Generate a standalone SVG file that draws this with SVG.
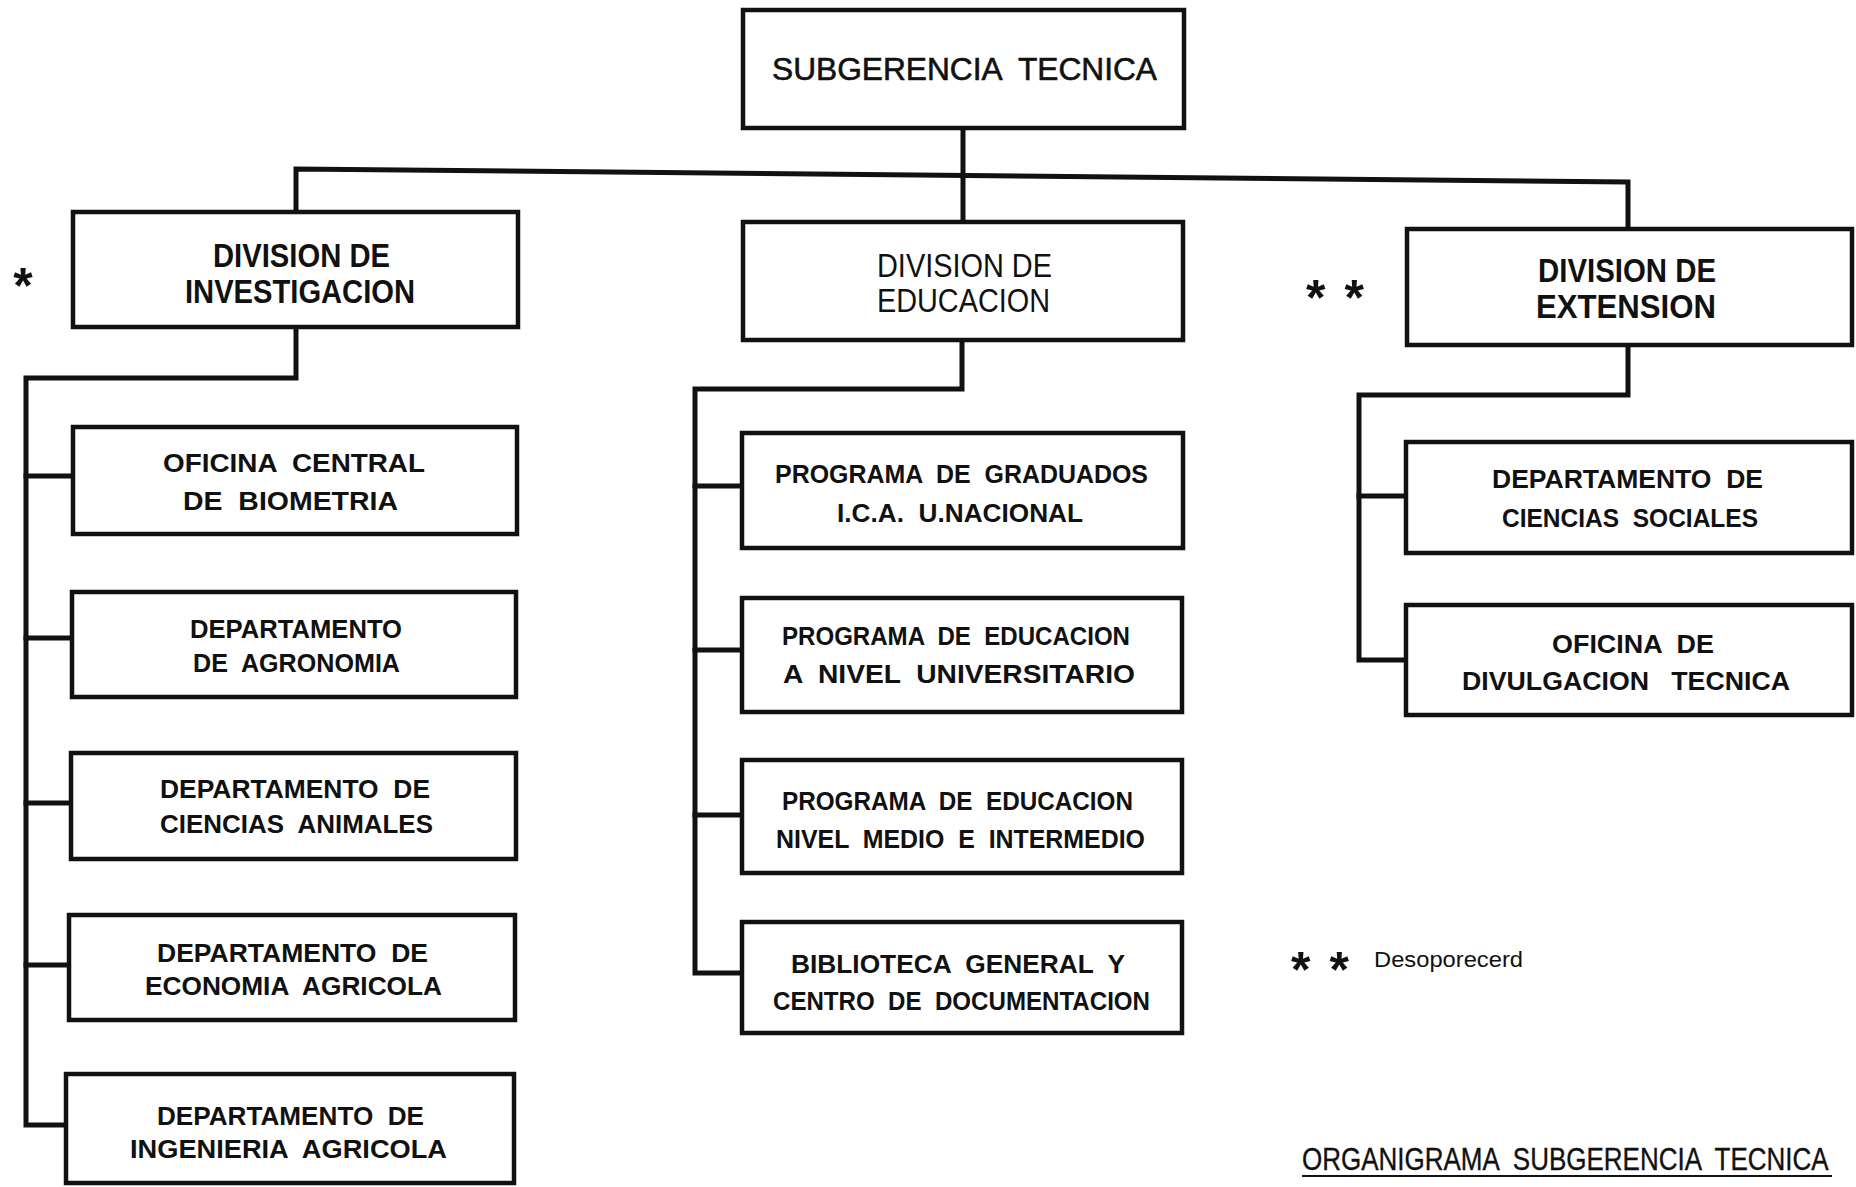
<svg xmlns="http://www.w3.org/2000/svg" width="1856" height="1187" viewBox="0 0 1856 1187">
<style>
.bg{fill:#ffffff}
.box{fill:#ffffff;stroke:#111;stroke-width:4.5}
.con{fill:none;stroke:#111;stroke-width:5;stroke-linejoin:miter;stroke-linecap:square}
text{font-family:"Liberation Sans",Arial,sans-serif;fill:#111;white-space:pre}
.t{font-size:32px;stroke:#111;stroke-width:0.6}
.dv{font-size:34px;font-weight:bold}
.dn{font-size:33px}
.c{font-size:26px;font-weight:bold}
.ce{font-size:25px;font-weight:bold}
.ast{font-size:50px;font-weight:bold}
.lg{font-size:22px}
.tt{font-size:26px;stroke:#111;stroke-width:0.3}
</style>
<rect class="bg" x="0" y="0" width="1856" height="1187"/>
<g id="connectors">
<path class="con" d="M963,128 V176"/>
<path class="con" d="M296,212 V169 L1628,182 V229"/>
<path class="con" d="M963,176 V222"/>
<path class="con" d="M296,327 V378 H26 V1125 H66"/>
<path class="con" d="M26,476 H73 M26,638 H72 M26,803 H71 M26,965 H69"/>
<path class="con" d="M962,340 V389 H695 V973 H742"/>
<path class="con" d="M695,486 H742 M695,650 H742 M695,815 H742"/>
<path class="con" d="M1628,345 V395 H1359 V660 H1406"/>
<path class="con" d="M1359,496 H1406"/>
</g>
<g id="subgerencia">
<rect class="box" x="743" y="10" width="441" height="118"/>
<text class="t" x="772" y="80" textLength="385" lengthAdjust="spacingAndGlyphs">SUBGERENCIA  TECNICA</text>
</g>
<g id="div-investigacion">
<rect class="box" x="73" y="212" width="445" height="115"/>
<text class="dv" x="213" y="267" textLength="177" lengthAdjust="spacingAndGlyphs">DIVISION DE</text>
<text class="dv" x="185" y="303" textLength="230" lengthAdjust="spacingAndGlyphs">INVESTIGACION</text>
</g>
<text class="ast" x="23" y="303" text-anchor="middle">*</text>
<g id="div-educacion">
<rect class="box" x="743" y="222" width="440" height="118"/>
<text class="dn" x="877" y="277" textLength="175" lengthAdjust="spacingAndGlyphs">DIVISION DE</text>
<text class="dn" x="877" y="312" textLength="173" lengthAdjust="spacingAndGlyphs">EDUCACION</text>
</g>
<g id="div-extension">
<rect class="box" x="1407" y="229" width="445" height="116"/>
<text class="dv" x="1538" y="282" textLength="178" lengthAdjust="spacingAndGlyphs">DIVISION DE</text>
<text class="dv" x="1536" y="318" textLength="180" lengthAdjust="spacingAndGlyphs">EXTENSION</text>
</g>
<text class="ast" x="1306" y="315" textLength="58" lengthAdjust="spacing">* *</text>
<g id="inv-biometria">
<rect class="box" x="73" y="427" width="444" height="107"/>
<text class="c" x="163" y="472" textLength="262" lengthAdjust="spacingAndGlyphs">OFICINA  CENTRAL</text>
<text class="c" x="183" y="510" textLength="215" lengthAdjust="spacingAndGlyphs">DE  BIOMETRIA</text>
</g>
<g id="inv-agronomia">
<rect class="box" x="72" y="592" width="444" height="105"/>
<text class="c" x="190" y="638" textLength="212" lengthAdjust="spacingAndGlyphs">DEPARTAMENTO</text>
<text class="c" x="193" y="672" textLength="207" lengthAdjust="spacingAndGlyphs">DE  AGRONOMIA</text>
</g>
<g id="inv-animales">
<rect class="box" x="71" y="753" width="445" height="106"/>
<text class="c" x="160" y="798" textLength="270" lengthAdjust="spacingAndGlyphs">DEPARTAMENTO  DE</text>
<text class="c" x="160" y="833" textLength="273" lengthAdjust="spacingAndGlyphs">CIENCIAS  ANIMALES</text>
</g>
<g id="inv-economia">
<rect class="box" x="69" y="915" width="446" height="105"/>
<text class="c" x="157" y="962" textLength="271" lengthAdjust="spacingAndGlyphs">DEPARTAMENTO  DE</text>
<text class="c" x="145" y="995" textLength="297" lengthAdjust="spacingAndGlyphs">ECONOMIA  AGRICOLA</text>
</g>
<g id="inv-ingenieria">
<rect class="box" x="66" y="1074" width="448" height="109"/>
<text class="c" x="157" y="1125" textLength="267" lengthAdjust="spacingAndGlyphs">DEPARTAMENTO  DE</text>
<text class="c" x="130" y="1158" textLength="317" lengthAdjust="spacingAndGlyphs">INGENIERIA  AGRICOLA</text>
</g>
<g id="edu-graduados">
<rect class="box" x="742" y="433" width="441" height="115"/>
<text class="ce" x="775" y="483" textLength="373" lengthAdjust="spacingAndGlyphs">PROGRAMA  DE  GRADUADOS</text>
<text class="ce" x="837" y="522" textLength="246" lengthAdjust="spacingAndGlyphs">I.C.A.  U.NACIONAL</text>
</g>
<g id="edu-universitario">
<rect class="box" x="742" y="598" width="440" height="114"/>
<text class="ce" x="782" y="645" textLength="348" lengthAdjust="spacingAndGlyphs">PROGRAMA  DE  EDUCACION</text>
<text class="ce" x="783" y="683" textLength="352" lengthAdjust="spacingAndGlyphs">A  NIVEL  UNIVERSITARIO</text>
</g>
<g id="edu-medio">
<rect class="box" x="742" y="760" width="440" height="113"/>
<text class="ce" x="782" y="810" textLength="351" lengthAdjust="spacingAndGlyphs">PROGRAMA  DE  EDUCACION</text>
<text class="ce" x="776" y="848" textLength="369" lengthAdjust="spacingAndGlyphs">NIVEL  MEDIO  E  INTERMEDIO</text>
</g>
<g id="edu-biblioteca">
<rect class="box" x="742" y="922" width="440" height="111"/>
<text class="ce" x="791" y="973" textLength="334" lengthAdjust="spacingAndGlyphs">BIBLIOTECA  GENERAL  Y</text>
<text class="ce" x="773" y="1010" textLength="377" lengthAdjust="spacingAndGlyphs">CENTRO  DE  DOCUMENTACION</text>
</g>
<g id="ext-sociales">
<rect class="box" x="1406" y="442" width="446" height="111"/>
<text class="c" x="1492" y="488" textLength="271" lengthAdjust="spacingAndGlyphs">DEPARTAMENTO  DE</text>
<text class="c" x="1502" y="527" textLength="256" lengthAdjust="spacingAndGlyphs">CIENCIAS  SOCIALES</text>
</g>
<g id="ext-divulgacion">
<rect class="box" x="1406" y="605" width="446" height="110"/>
<text class="c" x="1552" y="653" textLength="162" lengthAdjust="spacingAndGlyphs">OFICINA  DE</text>
<text class="c" x="1462" y="690" textLength="328" lengthAdjust="spacingAndGlyphs">DIVULGACION   TECNICA</text>
</g>
<g id="legend">
<text class="ast" x="1291" y="987" textLength="58" lengthAdjust="spacing">* *</text>
<text class="lg" x="1374" y="967" textLength="149" lengthAdjust="spacingAndGlyphs">Desoporecerd</text>
</g>
<g id="title">
<text class="tt" transform="translate(1302,1170) scale(1,1.2)" x="0" y="0">ORGANIGRAMA  SUBGERENCIA  TECNICA</text>
<line x1="1302" y1="1176" x2="1832" y2="1176" stroke="#111" stroke-width="2"/>
</g>
</svg>
